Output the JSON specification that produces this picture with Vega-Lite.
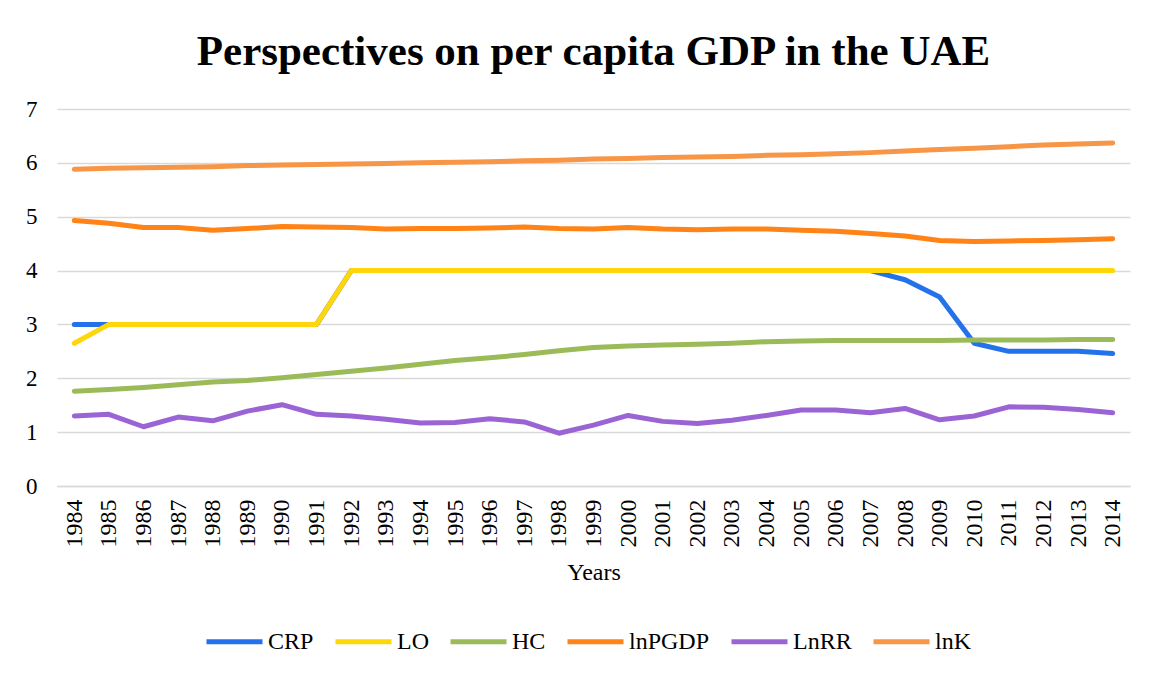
{
  "$schema": "https://vega.github.io/schema/vega-lite/v6.json",
  "width": 1073,
  "height": 377,
  "autosize": {"type": "none"},
  "padding": {"left": 57, "top": 109, "right": 23, "bottom": 189},
  "background": "white",
  "title": {
    "text": "Perspectives on per capita GDP in the UAE",
    "font": "Liberation Serif",
    "fontSize": 43,
    "fontWeight": "bold",
    "color": "#000000",
    "anchor": "middle",
    "offset": 24
  },
  "config": {
    "view": {"stroke": null},
    "font": "Liberation Serif",
    "axis": {
      "labelFont": "Liberation Serif",
      "titleFont": "Liberation Serif",
      "labelColor": "#000000",
      "titleColor": "#000000"
    }
  },
  "data": {
    "values": [
      {"Year":"1984","Series":"CRP","Value":3},{"Year":"1985","Series":"CRP","Value":3},{"Year":"1986","Series":"CRP","Value":3},{"Year":"1987","Series":"CRP","Value":3},{"Year":"1988","Series":"CRP","Value":3},{"Year":"1989","Series":"CRP","Value":3},{"Year":"1990","Series":"CRP","Value":3},{"Year":"1991","Series":"CRP","Value":3},{"Year":"1992","Series":"CRP","Value":4},{"Year":"1993","Series":"CRP","Value":4},{"Year":"1994","Series":"CRP","Value":4},{"Year":"1995","Series":"CRP","Value":4},{"Year":"1996","Series":"CRP","Value":4},{"Year":"1997","Series":"CRP","Value":4},{"Year":"1998","Series":"CRP","Value":4},{"Year":"1999","Series":"CRP","Value":4},{"Year":"2000","Series":"CRP","Value":4},{"Year":"2001","Series":"CRP","Value":4},{"Year":"2002","Series":"CRP","Value":4},{"Year":"2003","Series":"CRP","Value":4},{"Year":"2004","Series":"CRP","Value":4},{"Year":"2005","Series":"CRP","Value":4},{"Year":"2006","Series":"CRP","Value":4},{"Year":"2007","Series":"CRP","Value":4},{"Year":"2008","Series":"CRP","Value":3.83},{"Year":"2009","Series":"CRP","Value":3.51},{"Year":"2010","Series":"CRP","Value":2.65},{"Year":"2011","Series":"CRP","Value":2.5},{"Year":"2012","Series":"CRP","Value":2.5},{"Year":"2013","Series":"CRP","Value":2.5},{"Year":"2014","Series":"CRP","Value":2.46},
      {"Year":"1984","Series":"LO","Value":2.65},{"Year":"1985","Series":"LO","Value":3},{"Year":"1986","Series":"LO","Value":3},{"Year":"1987","Series":"LO","Value":3},{"Year":"1988","Series":"LO","Value":3},{"Year":"1989","Series":"LO","Value":3},{"Year":"1990","Series":"LO","Value":3},{"Year":"1991","Series":"LO","Value":3},{"Year":"1992","Series":"LO","Value":4},{"Year":"1993","Series":"LO","Value":4},{"Year":"1994","Series":"LO","Value":4},{"Year":"1995","Series":"LO","Value":4},{"Year":"1996","Series":"LO","Value":4},{"Year":"1997","Series":"LO","Value":4},{"Year":"1998","Series":"LO","Value":4},{"Year":"1999","Series":"LO","Value":4},{"Year":"2000","Series":"LO","Value":4},{"Year":"2001","Series":"LO","Value":4},{"Year":"2002","Series":"LO","Value":4},{"Year":"2003","Series":"LO","Value":4},{"Year":"2004","Series":"LO","Value":4},{"Year":"2005","Series":"LO","Value":4},{"Year":"2006","Series":"LO","Value":4},{"Year":"2007","Series":"LO","Value":4},{"Year":"2008","Series":"LO","Value":4},{"Year":"2009","Series":"LO","Value":4},{"Year":"2010","Series":"LO","Value":4},{"Year":"2011","Series":"LO","Value":4},{"Year":"2012","Series":"LO","Value":4},{"Year":"2013","Series":"LO","Value":4},{"Year":"2014","Series":"LO","Value":4},
      {"Year":"1984","Series":"HC","Value":1.76},{"Year":"1985","Series":"HC","Value":1.79},{"Year":"1986","Series":"HC","Value":1.83},{"Year":"1987","Series":"HC","Value":1.88},{"Year":"1988","Series":"HC","Value":1.93},{"Year":"1989","Series":"HC","Value":1.96},{"Year":"1990","Series":"HC","Value":2.01},{"Year":"1991","Series":"HC","Value":2.07},{"Year":"1992","Series":"HC","Value":2.13},{"Year":"1993","Series":"HC","Value":2.19},{"Year":"1994","Series":"HC","Value":2.26},{"Year":"1995","Series":"HC","Value":2.33},{"Year":"1996","Series":"HC","Value":2.38},{"Year":"1997","Series":"HC","Value":2.44},{"Year":"1998","Series":"HC","Value":2.51},{"Year":"1999","Series":"HC","Value":2.57},{"Year":"2000","Series":"HC","Value":2.6},{"Year":"2001","Series":"HC","Value":2.62},{"Year":"2002","Series":"HC","Value":2.63},{"Year":"2003","Series":"HC","Value":2.65},{"Year":"2004","Series":"HC","Value":2.68},{"Year":"2005","Series":"HC","Value":2.69},{"Year":"2006","Series":"HC","Value":2.7},{"Year":"2007","Series":"HC","Value":2.7},{"Year":"2008","Series":"HC","Value":2.7},{"Year":"2009","Series":"HC","Value":2.7},{"Year":"2010","Series":"HC","Value":2.71},{"Year":"2011","Series":"HC","Value":2.71},{"Year":"2012","Series":"HC","Value":2.71},{"Year":"2013","Series":"HC","Value":2.72},{"Year":"2014","Series":"HC","Value":2.72},
      {"Year":"1984","Series":"lnPGDP","Value":4.93},{"Year":"1985","Series":"lnPGDP","Value":4.88},{"Year":"1986","Series":"lnPGDP","Value":4.8},{"Year":"1987","Series":"lnPGDP","Value":4.8},{"Year":"1988","Series":"lnPGDP","Value":4.75},{"Year":"1989","Series":"lnPGDP","Value":4.78},{"Year":"1990","Series":"lnPGDP","Value":4.82},{"Year":"1991","Series":"lnPGDP","Value":4.81},{"Year":"1992","Series":"lnPGDP","Value":4.8},{"Year":"1993","Series":"lnPGDP","Value":4.77},{"Year":"1994","Series":"lnPGDP","Value":4.78},{"Year":"1995","Series":"lnPGDP","Value":4.78},{"Year":"1996","Series":"lnPGDP","Value":4.79},{"Year":"1997","Series":"lnPGDP","Value":4.81},{"Year":"1998","Series":"lnPGDP","Value":4.78},{"Year":"1999","Series":"lnPGDP","Value":4.77},{"Year":"2000","Series":"lnPGDP","Value":4.8},{"Year":"2001","Series":"lnPGDP","Value":4.77},{"Year":"2002","Series":"lnPGDP","Value":4.76},{"Year":"2003","Series":"lnPGDP","Value":4.77},{"Year":"2004","Series":"lnPGDP","Value":4.77},{"Year":"2005","Series":"lnPGDP","Value":4.75},{"Year":"2006","Series":"lnPGDP","Value":4.73},{"Year":"2007","Series":"lnPGDP","Value":4.69},{"Year":"2008","Series":"lnPGDP","Value":4.64},{"Year":"2009","Series":"lnPGDP","Value":4.56},{"Year":"2010","Series":"lnPGDP","Value":4.54},{"Year":"2011","Series":"lnPGDP","Value":4.55},{"Year":"2012","Series":"lnPGDP","Value":4.56},{"Year":"2013","Series":"lnPGDP","Value":4.57},{"Year":"2014","Series":"lnPGDP","Value":4.59},
      {"Year":"1984","Series":"LnRR","Value":1.3},{"Year":"1985","Series":"LnRR","Value":1.33},{"Year":"1986","Series":"LnRR","Value":1.1},{"Year":"1987","Series":"LnRR","Value":1.28},{"Year":"1988","Series":"LnRR","Value":1.21},{"Year":"1989","Series":"LnRR","Value":1.39},{"Year":"1990","Series":"LnRR","Value":1.51},{"Year":"1991","Series":"LnRR","Value":1.33},{"Year":"1992","Series":"LnRR","Value":1.3},{"Year":"1993","Series":"LnRR","Value":1.24},{"Year":"1994","Series":"LnRR","Value":1.17},{"Year":"1995","Series":"LnRR","Value":1.18},{"Year":"1996","Series":"LnRR","Value":1.25},{"Year":"1997","Series":"LnRR","Value":1.19},{"Year":"1998","Series":"LnRR","Value":0.98},{"Year":"1999","Series":"LnRR","Value":1.13},{"Year":"2000","Series":"LnRR","Value":1.31},{"Year":"2001","Series":"LnRR","Value":1.2},{"Year":"2002","Series":"LnRR","Value":1.16},{"Year":"2003","Series":"LnRR","Value":1.22},{"Year":"2004","Series":"LnRR","Value":1.31},{"Year":"2005","Series":"LnRR","Value":1.41},{"Year":"2006","Series":"LnRR","Value":1.41},{"Year":"2007","Series":"LnRR","Value":1.36},{"Year":"2008","Series":"LnRR","Value":1.44},{"Year":"2009","Series":"LnRR","Value":1.23},{"Year":"2010","Series":"LnRR","Value":1.3},{"Year":"2011","Series":"LnRR","Value":1.47},{"Year":"2012","Series":"LnRR","Value":1.46},{"Year":"2013","Series":"LnRR","Value":1.42},{"Year":"2014","Series":"LnRR","Value":1.36},
      {"Year":"1984","Series":"lnK","Value":5.88},{"Year":"1985","Series":"lnK","Value":5.9},{"Year":"1986","Series":"lnK","Value":5.91},{"Year":"1987","Series":"lnK","Value":5.92},{"Year":"1988","Series":"lnK","Value":5.93},{"Year":"1989","Series":"lnK","Value":5.95},{"Year":"1990","Series":"lnK","Value":5.96},{"Year":"1991","Series":"lnK","Value":5.97},{"Year":"1992","Series":"lnK","Value":5.98},{"Year":"1993","Series":"lnK","Value":5.99},{"Year":"1994","Series":"lnK","Value":6.0},{"Year":"1995","Series":"lnK","Value":6.01},{"Year":"1996","Series":"lnK","Value":6.02},{"Year":"1997","Series":"lnK","Value":6.04},{"Year":"1998","Series":"lnK","Value":6.05},{"Year":"1999","Series":"lnK","Value":6.07},{"Year":"2000","Series":"lnK","Value":6.08},{"Year":"2001","Series":"lnK","Value":6.1},{"Year":"2002","Series":"lnK","Value":6.11},{"Year":"2003","Series":"lnK","Value":6.12},{"Year":"2004","Series":"lnK","Value":6.14},{"Year":"2005","Series":"lnK","Value":6.15},{"Year":"2006","Series":"lnK","Value":6.17},{"Year":"2007","Series":"lnK","Value":6.19},{"Year":"2008","Series":"lnK","Value":6.22},{"Year":"2009","Series":"lnK","Value":6.25},{"Year":"2010","Series":"lnK","Value":6.27},{"Year":"2011","Series":"lnK","Value":6.3},{"Year":"2012","Series":"lnK","Value":6.33},{"Year":"2013","Series":"lnK","Value":6.35},{"Year":"2014","Series":"lnK","Value":6.37}
    ]
  },
  "mark": {"type": "line", "strokeWidth": 5, "strokeCap": "round", "strokeJoin": "round"},
  "encoding": {
    "x": {
      "field": "Year",
      "type": "ordinal",
      "scale": {"type": "point", "padding": 0.5},
      "axis": {
        "title": "Years",
        "titleFont": "Liberation Serif",
        "titleFontSize": 24,
        "titleFontWeight": "normal",
        "titleColor": "#000000",
        "titlePadding": 13,
        "labelAngle": -90,
        "labelFont": "Liberation Serif",
        "labelFontSize": 24,
        "labelColor": "#000000",
        "labelPadding": 13,
        "ticks": false,
        "domain": true,
        "domainColor": "#D9D9D9",
        "domainWidth": 1.5,
        "grid": false
      }
    },
    "y": {
      "field": "Value",
      "type": "quantitative",
      "scale": {"domain": [0, 7], "nice": false},
      "axis": {
        "title": null,
        "values": [0, 1, 2, 3, 4, 5, 6, 7],
        "labelFont": "Liberation Serif",
        "labelFontSize": 23,
        "labelColor": "#000000",
        "labelPadding": 20,
        "ticks": false,
        "domain": false,
        "grid": true,
        "gridColor": "#D9D9D9",
        "gridWidth": 1.5
      }
    },
    "color": {
      "field": "Series",
      "type": "nominal",
      "sort": null,
      "scale": {
        "domain": ["CRP", "LO", "HC", "lnPGDP", "LnRR", "lnK"],
        "range": ["#2472EB", "#FFD60A", "#9BBB59", "#FF8316", "#9B64D4", "#F79646"]
      },
      "legend": {
        "title": null,
        "orient": "none",
        "direction": "horizontal",
        "legendX": 147,
        "legendY": 502,
        "symbolType": "stroke",
        "symbolSize": 3136,
        "symbolStrokeWidth": 5,
        "labelFont": "Liberation Serif",
        "labelFontSize": 24,
        "labelColor": "#000000",
        "labelOffset": 3,
        "columnPadding": 11
      }
    }
  }
}
